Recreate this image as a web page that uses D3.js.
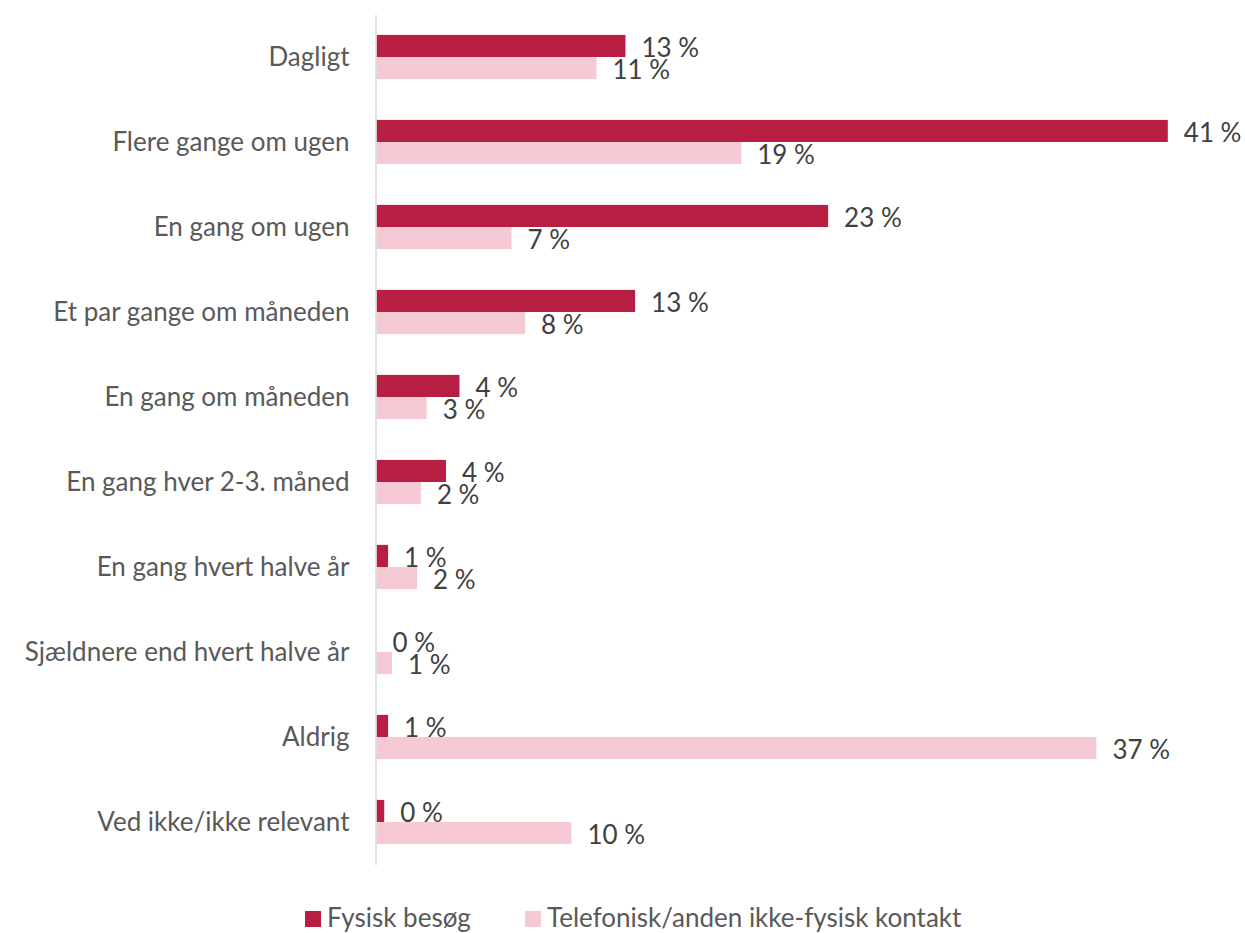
<!DOCTYPE html>
<html>
<head>
<meta charset="utf-8">
<script src="https://cdn.jsdelivr.net/npm/d3@7"></script>
<style>
  html, body { margin: 0; padding: 0; background: #ffffff; }
  svg { display: block; }
  text { font-family: "Lato", "Open Sans", sans-serif; }
</style>
</head>
<body>
<svg id="chart" width="1245" height="933"></svg>
<script>
// Contact frequency, share of respondents (%)
const categories = [
  "Dagligt",
  "Flere gange om ugen",
  "En gang om ugen",
  "Et par gange om måneden",
  "En gang om måneden",
  "En gang hver 2-3. måned",
  "En gang hvert halve år",
  "Sjældnere end hvert halve år",
  "Aldrig",
  "Ved ikke/ikke relevant"
];
const seriesNames = ["Fysisk besøg", "Telefonisk/anden ikke-fysisk kontakt"];
const fysiskBesoeg = [12.9, 41.0, 23.4, 13.4, 4.3, 3.6, 0.6, 0.0, 0.6, 0.4];
const telefoniskKontakt = [11.4, 18.9, 7.0, 7.7, 2.6, 2.3, 2.1, 0.8, 37.3, 10.1];
const seriesColors = ["#B81E42", "#F6CAD5"];

const seriesValues = [fysiskBesoeg, telefoniskKontakt];
const rows = categories.map((c, i) => ({
  category: c,
  values: seriesValues.map((vals, s) => ({ series: s, value: vals[i] }))
}));

const svg = d3.select("#chart");
const plotLeft = 376.5, plotTop = 14.5, plotBottom = 864.5;
const pxPerUnit = 19.3;
const fontSize = 26;

const x = d3.scaleLinear().domain([0, 45]).range([plotLeft, plotLeft + pxPerUnit * 45]);
const y = d3.scaleBand().domain(categories).range([plotTop, plotBottom])
  .paddingInner(0.48).paddingOuter(0.24);
const ySub = d3.scaleBand().domain(d3.range(seriesNames.length)).range([0, y.bandwidth()]);

const fmt = v => d3.format(".0f")(v) + " %";

// Bars
const groups = svg.append("g").selectAll("g").data(rows).join("g")
  .attr("transform", d => `translate(0,${y(d.category)})`);

groups.selectAll("rect").data(d => d.values).join("rect")
  .attr("x", x(0))
  .attr("y", d => ySub(d.series))
  .attr("width", d => x(d.value) - x(0))
  .attr("height", ySub.bandwidth())
  .attr("fill", d => seriesColors[d.series]);

// Value labels
groups.selectAll("text.val").data(d => d.values).join("text")
  .attr("class", "val")
  .attr("x", d => x(d.value) + 16)
  .attr("y", d => ySub(d.series) + ySub.bandwidth() / 2 + 1)
  .attr("dominant-baseline", "central")
  .attr("font-size", fontSize)
  .attr("fill", "#404040")
  .text(d => fmt(d.value));

// Category axis
const yAxis = svg.append("g")
  .attr("transform", `translate(${plotLeft - 1},0)`)
  .call(d3.axisLeft(y).tickSize(0).tickPadding(26));
yAxis.select(".domain").attr("stroke", "#d9d9d9").attr("stroke-width", 1.5);
yAxis.selectAll(".tick text")
  .attr("font-size", fontSize)
  .attr("font-family", "Lato, 'Open Sans', sans-serif")
  .attr("fill", "#595959")
  .attr("dy", "0.33em");

// Legend
const legend = svg.append("g").attr("transform", "translate(0,917)");
const legendItems = [{ x: 305, s: 0 }, { x: 525, s: 1 }];
legendItems.forEach(item => {
  legend.append("rect")
    .attr("x", item.x).attr("y", -6).attr("width", 16).attr("height", 16)
    .attr("fill", seriesColors[item.s]);
  legend.append("text")
    .attr("x", item.x + 22).attr("y", 0)
    .attr("dominant-baseline", "central")
    .attr("font-size", fontSize)
    .attr("fill", "#595959")
    .text(seriesNames[item.s]);
});
</script>
</body>
</html>
